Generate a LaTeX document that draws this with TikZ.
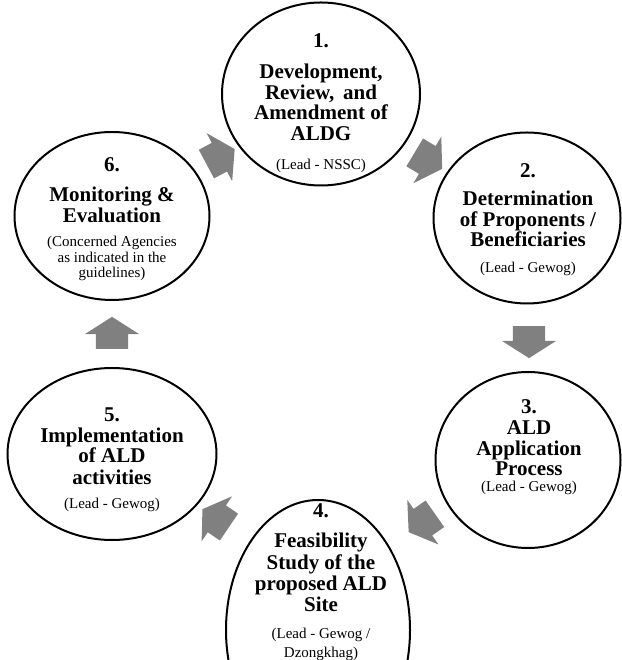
\documentclass[tikz,border=0pt]{standalone}
\usepackage{fontspec}
\setmainfont{Liberation Serif}
\usepackage{tikz}
\usetikzlibrary{shapes.geometric,shapes.arrows}
\definecolor{ALD_grau}{HTML}{808080}
\newcommand{\leadtxt}[1]{{\fontsize{15}{16}\selectfont\mdseries #1}}

\begin{document}
\begin{tikzpicture}[x=1pt, y=1pt,
  stage/.style={draw, ellipse, line width=2pt, inner sep=0pt},
  stagetext/.style={anchor=north, align=center, inner sep=0pt, font=\fontsize{21}{20.5}\selectfont\bfseries},
  flow/.style={single arrow, fill=ALD_grau, draw=none, inner xsep=0pt, inner ysep=16pt, minimum height=32pt, single arrow head extend=11pt, single arrow tip angle=115}]
\useasboundingbox (0,0) rectangle (621,660);
%\draw[step=50, very thin, red] (0,0) grid (621,660);

% the six stages
\node[stage, minimum width=198pt, minimum height=183pt] (stage1) at (321,566) {};
\node[stage, minimum width=187pt, minimum height=171pt] (stage2) at (527,442) {};
\node[stage, minimum width=185pt, minimum height=176pt] (stage3) at (528,200) {};
\node[stage, minimum width=184pt, minimum height=260pt] (stage4) at (318,30) {};
\node[stage, minimum width=209pt, minimum height=172pt] (stage5) at (112,206) {};
\node[stage, minimum width=195pt, minimum height=168pt] (stage6) at (112,444) {};

\node[stagetext] (text1) at (321,627) {1.\\[11pt] Development,\\ Review,\, and\\ Amendment of\\ ALDG\\[9pt] \leadtxt{(Lead - NSSC)}};
\node[stagetext] (text2) at (528,497) {2.\\[8pt] Determination\\ of Proponents /\\ Beneficiaries\\[5pt] \leadtxt{(Lead - Gewog)}};
\node[stagetext] (text3) at (529,261) {3.\\[1pt] ALD\\ Application\\ Process\\[-5pt] \leadtxt{(Lead - Gewog)}};
\node[stagetext] (text4) at (321,157) {4.\\[10pt] Feasibility\\[1pt] Study of the\\[1pt] proposed ALD\\ Site\\[7pt] \leadtxt{(Lead - Gewog /}\\[-2pt] \leadtxt{Dzongkhag)}};
\node[stagetext] (text5) at (112,252) {5.\\ Implementation\\ of ALD\\[1pt] activities\\[4pt] \leadtxt{(Lead - Gewog)}};
\node[stagetext] (text6) at (112,503) {6.\\[10pt] Monitoring \&\\ Evaluation\\[4pt] \leadtxt{(Concerned Agencies}\\[-5pt] \leadtxt{as indicated in the}\\[-5pt] \leadtxt{guidelines)}};

% arrows between the stages
\node[flow, rotate=28] (flow61) at (216,501) {};
\node[flow, rotate=-31] (flow12) at (424,502) {};
\node[flow, rotate=-90] (flow23) at (529,323) {};
\node[flow, rotate=215] (flow34) at (426,140) {};
\node[flow, rotate=146] (flow45) at (220,139) {};
\node[flow, rotate=90] (flow56) at (112,322) {};
\end{tikzpicture}
\end{document}
